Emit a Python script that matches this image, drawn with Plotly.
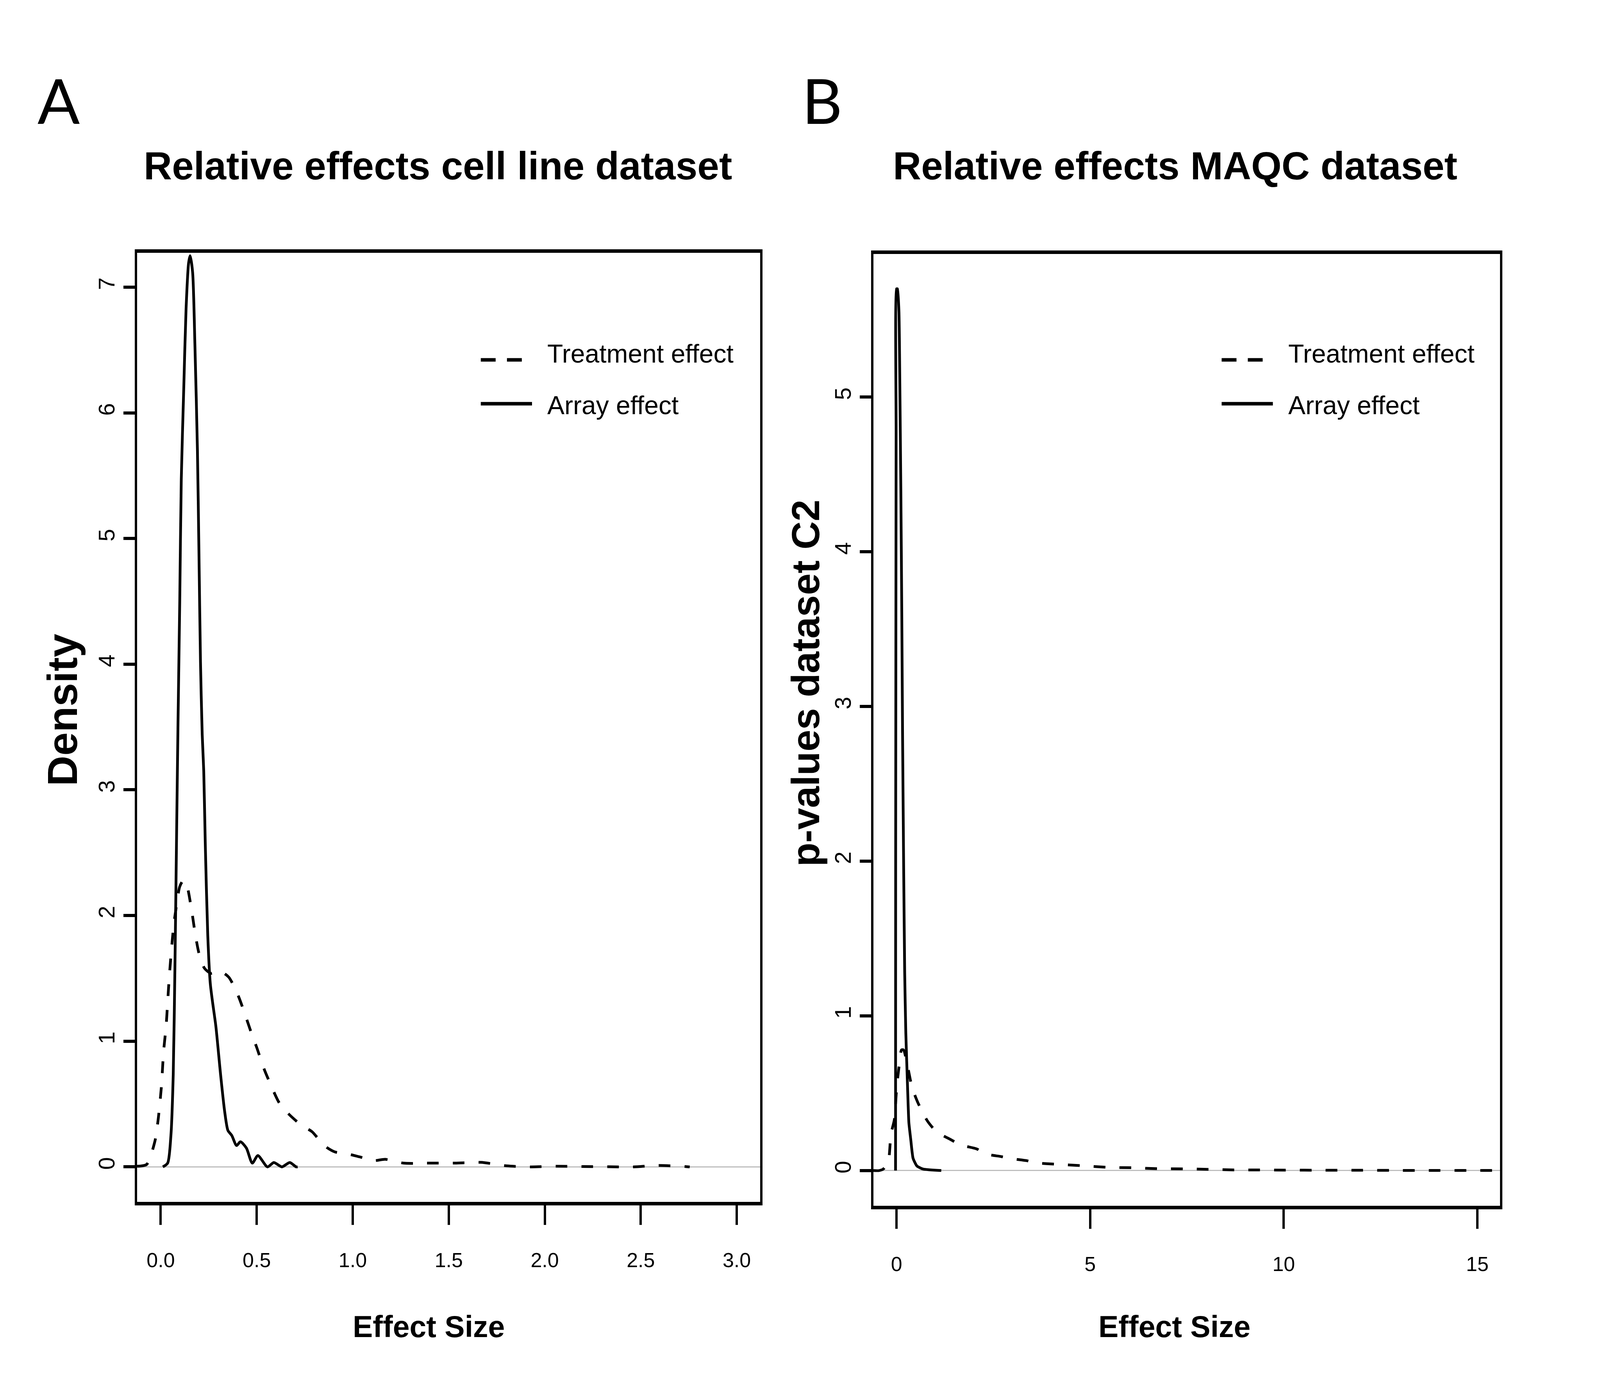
import plotly.graph_objects as go

# Panel A: cell line dataset (density curves)
treat_a_x = [-0.123, -0.073, -0.031, -0.014, 0.003, 0.015, 0.028, 0.036, 0.044, 0.057, 0.069,
             0.082, 0.099, 0.118, 0.136, 0.161, 0.178, 0.199, 0.228, 0.262, 0.304, 0.354,
             0.404, 0.433, 0.471, 0.500, 0.538, 0.571, 0.617, 0.667, 0.734, 0.788, 0.851,
             0.905, 0.981, 1.035, 1.110, 1.169, 1.264, 1.399, 1.533, 1.668, 1.802, 1.927,
             2.061, 2.196, 2.330, 2.461, 2.593, 2.730, 2.755]
treat_a_y = [0.005, 0.02, 0.20, 0.37, 0.63, 0.92, 1.12, 1.31, 1.50, 1.75, 1.94,
             2.08, 2.23, 2.28, 2.24, 2.04, 1.87, 1.70, 1.58, 1.54, 1.56, 1.51,
             1.36, 1.24, 1.07, 0.95, 0.78, 0.66, 0.51, 0.42, 0.33, 0.28, 0.17,
             0.12, 0.10, 0.08, 0.05, 0.06, 0.03, 0.03, 0.03, 0.036, 0.008, 0.0,
             0.005, 0.003, 0.001, 0.0, 0.011, 0.003, 0.0]

array_a_x = [0.011, 0.036, 0.053, 0.065, 0.074, 0.082, 0.090, 0.099, 0.107, 0.120, 0.132,
             0.145, 0.153, 0.166, 0.178, 0.191, 0.199, 0.207, 0.216, 0.224, 0.232, 0.245,
             0.258, 0.270, 0.287, 0.312, 0.333, 0.350, 0.370, 0.395, 0.415, 0.446, 0.477,
             0.506, 0.556, 0.589, 0.631, 0.672, 0.705, 0.713]
array_a_y = [0.0, 0.03, 0.25, 0.73, 1.60, 2.57, 3.54, 4.50, 5.47, 6.20, 6.83,
             7.19, 7.25, 7.12, 6.54, 5.71, 4.89, 4.02, 3.44, 3.15, 2.57, 1.84,
             1.46, 1.31, 1.12, 0.73, 0.44, 0.29, 0.25, 0.17, 0.20, 0.15, 0.03,
             0.09, 0.0, 0.035, 0.0, 0.035, 0.0, 0.0]

# Panel B: MAQC dataset
treat_b_x = [-0.597, -0.449, -0.341, -0.213, -0.144, -0.055, -0.006, 0.04, 0.08, 0.13,
             0.18, 0.25, 0.40, 0.55, 0.80, 1.04, 1.40, 1.67, 2.07, 2.30, 2.71, 2.97,
             3.38, 3.59, 4.13, 4.77, 5.44, 6.10, 6.76, 7.41, 8.06, 8.72, 9.37, 10.04,
             11.0, 12.0, 13.0, 14.0, 15.0, 16.0]
treat_b_y = [0.0, 0.0, 0.01, 0.06, 0.235, 0.33, 0.50, 0.62, 0.70, 0.78,
             0.78, 0.72, 0.54, 0.44, 0.32, 0.25, 0.20, 0.165, 0.14, 0.108, 0.09, 0.077,
             0.063, 0.05, 0.041, 0.032, 0.021, 0.018, 0.012, 0.011, 0.008, 0.004, 0.004, 0.003,
             0.002, 0.002, 0.001, 0.001, 0.001, 0.001]

array_b_x = [-0.025, -0.022, -0.010, 0.001, 0.024, 0.063, 0.083, 0.112, 0.136, 0.156,
             0.181, 0.211, 0.240, 0.280, 0.319, 0.368, 0.427, 0.526, 0.683, 1.156]
array_b_y = [0.0, 2.06, 4.77, 5.70, 5.70, 5.55, 5.16, 4.39, 3.61, 2.83,
             2.06, 1.28, 0.89, 0.58, 0.31, 0.20, 0.08, 0.03, 0.01, 0.0]

legend_labels = ["Treatment effect", "Array effect"]
panel_titles = ["Relative effects cell line dataset", "Relative effects MAQC dataset"]
panel_letters = ["A", "B"]
x_title = "Effect Size"
y_titles = ["Density", "p-values dataset C2"]

# positions below are measured in pixels of the 6970x3560 original
W, H = 6970, 3560
FONT = "Liberation Sans, Arial, sans-serif"
LW = 7
DASH = "30px,36px"

fig = go.Figure()

fig.add_trace(go.Scatter(x=treat_a_x, y=treat_a_y, mode="lines", xaxis="x", yaxis="y",
                         line=dict(color="black", width=LW, dash=DASH, shape="spline", smoothing=0.7)))
fig.add_trace(go.Scatter(x=array_a_x, y=array_a_y, mode="lines", xaxis="x", yaxis="y",
                         line=dict(color="black", width=LW, shape="spline", smoothing=0.7)))
fig.add_trace(go.Scatter(x=treat_b_x, y=treat_b_y, mode="lines", xaxis="x2", yaxis="y2",
                         line=dict(color="black", width=LW, dash=DASH, shape="spline", smoothing=0.7)))
fig.add_trace(go.Scatter(x=array_b_x, y=array_b_y, mode="lines", xaxis="x2", yaxis="y2",
                         line=dict(color="black", width=LW, shape="spline", smoothing=0.5)))

x_common = dict(
    showgrid=False, showline=True, linecolor="black", linewidth=9, mirror=True, zeroline=False,
    ticks="outside", ticklen=50, tickwidth=6, tickcolor="black", ticklabelstandoff=45,
    tickfont=dict(family=FONT, size=52, color="black"),
)
y_common = dict(
    showgrid=False, showline=True, linecolor="black", linewidth=6, mirror=True,
    zeroline=True, zerolinecolor="#bebebe", zerolinewidth=3,
    ticks="outside", ticklen=29, tickwidth=8, tickcolor="black", tickangle=-90, dtick=1,
    tickfont=dict(family=FONT, size=58, color="black"),
)

fig.update_layout(
    autosize=True,
    margin=dict(l=0, r=0, t=0, b=0),
    paper_bgcolor="white", plot_bgcolor="white",
    showlegend=False,
    xaxis=dict(domain=[586 / W, 3310 / W], range=[-0.123, 3.121], tickmode="array",
               tickvals=[0, 0.5, 1, 1.5, 2, 2.5, 3], ticktext=["0.0", "0.5", "1.0", "1.5", "2.0", "2.5", "3.0"],
               anchor="y", **x_common),
    yaxis=dict(domain=[1 - 3082 / H, 1 - 642 / H], range=[-0.279, 7.273], anchor="x", **y_common),
    xaxis2=dict(domain=[3806 / W, 6547 / W], range=[-0.597, 15.59], dtick=5, anchor="y2", **x_common),
    yaxis2=dict(domain=[1 - 3092 / H, 1 - 645 / H], range=[-0.228, 5.925], anchor="x2", **y_common),
)

annotations = []
shapes = []
letter_x = [242, 3582]
title_x = [1901, 5126]
xlab_x = [1861, 5123]
ylab_x = [260, 3510]
ylab_y = [1817, 1748]
ylab_size = [108, 100]
legend_dx = [0, 3240]

for i in range(2):
    annotations.append(dict(text=panel_letters[i], x=letter_x[i] / W, y=1 - 248 / H, xref="paper", yref="paper",
                            showarrow=False, xanchor="center", yanchor="middle",
                            font=dict(family="Lato, sans-serif", size=160, color="black")))
    annotations.append(dict(text="<b>%s</b>" % panel_titles[i], x=title_x[i] / W, y=1 - 418 / H,
                            xref="paper", yref="paper", showarrow=False, xanchor="center", yanchor="middle",
                            font=dict(family=FONT, size=100, color="black")))
    annotations.append(dict(text="<b>%s</b>" % x_title, x=xlab_x[i] / W, y=1 - 3402 / H,
                            xref="paper", yref="paper", showarrow=False, xanchor="center", yanchor="middle",
                            font=dict(family=FONT, size=77, color="black")))
    annotations.append(dict(text="<b>%s</b>" % y_titles[i], x=ylab_x[i] / W, y=1 - ylab_y[i] / H, textangle=-90,
                            xref="paper", yref="paper", showarrow=False, xanchor="center", yanchor="middle",
                            font=dict(family=FONT, size=ylab_size[i], color="black")))
    dx = legend_dx[i]
    for label, ky, ty, dash in [(legend_labels[0], 917, 901, "38px,29px"),
                                (legend_labels[1], 1030, 1034, "solid")]:
        shapes.append(dict(type="line", xref="paper", yref="paper",
                           x0=(2089 + dx) / W, x1=(2313 + dx) / W, y0=1 - ky / H, y1=1 - ky / H,
                           line=dict(color="black", width=9, dash=dash)))
        annotations.append(dict(text=label, x=(2377 + dx) / W, y=1 - ty / H, xref="paper", yref="paper",
                                showarrow=False, xanchor="left", yanchor="middle",
                                font=dict(family=FONT, size=66, color="black")))

fig.update_layout(annotations=annotations, shapes=shapes)

fig.write_html("out.html")
